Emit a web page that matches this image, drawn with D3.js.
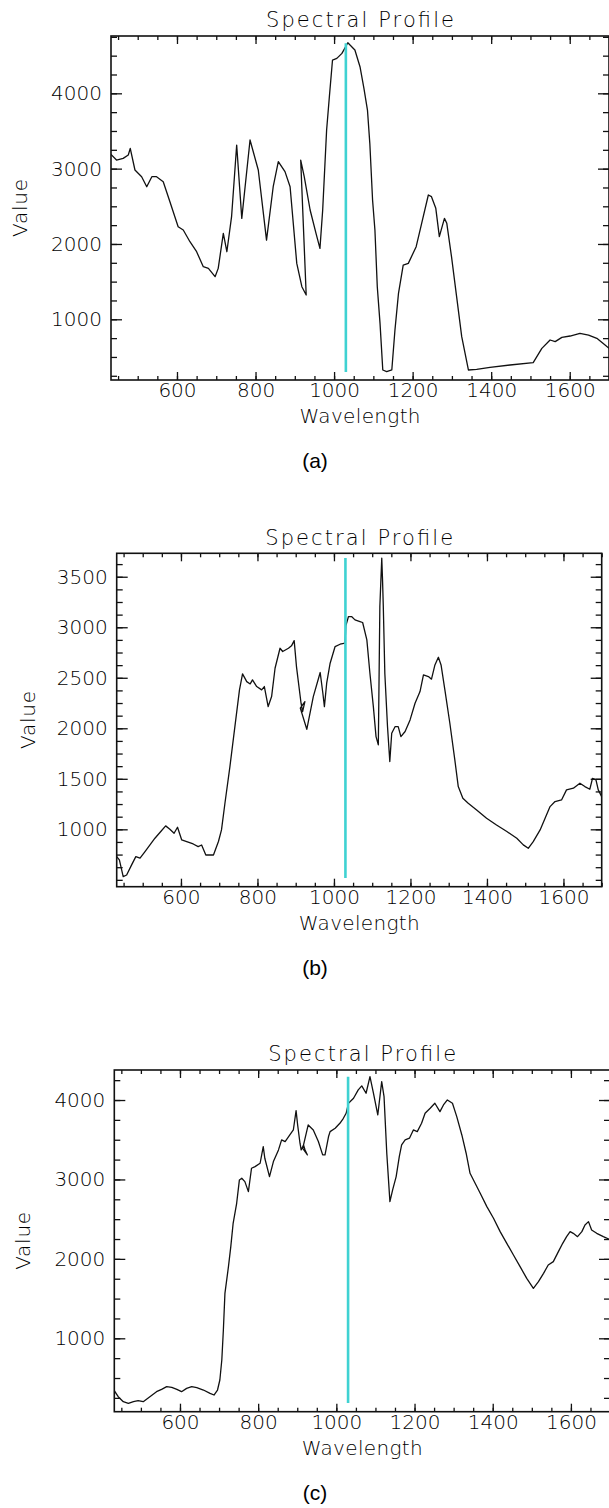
<!DOCTYPE html>
<html>
<head>
<meta charset="utf-8">
<script src="https://cdn.jsdelivr.net/npm/d3@7/dist/d3.min.js"></script>
<style>
body{margin:0;background:#fff;}
.lbl{font-family:"DejaVu Sans",sans-serif;font-weight:200;fill:#000;}
.cap{font-family:"Liberation Sans",Arial,sans-serif;font-weight:normal;fill:#000;}
</style>
</head>
<body>
<svg id="chart"></svg>
<script>
// spectra (wavelength nm / value); the 915-930 bit goes back in x (detector overlap)
var waveA = [432,446,463,476,481,493,510,523,536,548,565,582,603,616,633,650,667,680,697,705,718,727,739,752,765,786,807,828,845,858,875,888,905,918,929,915,924,939,954,964,971,981,988,996,1007,1020,1035,1053,1066,1076,1085,1091,1098,1104,1110,1117,1124,1134,1147,1155,1164,1176,1189,1209,1223,1240,1248,1259,1268,1281,1287,1299,1312,1325,1342,1363,1397,1448,1507,1529,1550,1563,1580,1601,1626,1648,1669,1690,1700];
var valueA = [3190,3114,3136,3181,3269,2982,2893,2760,2893,2893,2827,2561,2229,2185,2030,1897,1698,1676,1566,1676,2141,1897,2362,3313,2340,3380,2982,2052,2760,3092,2960,2760,1742,1433,1322,3114,2893,2451,2141,1942,2451,3513,3955,4442,4464,4530,4672,4575,4353,4066,3778,3336,2583,2185,1433,946,327,304,327,858,1344,1720,1742,1964,2274,2650,2628,2473,2097,2340,2274,1831,1300,769,327,335,362,393,424,614,725,703,760,778,813,791,747,658,614];

var waveB = [432,439,449,458,471,482,493,506,519,532,545,560,571,582,591,602,615,632,645,654,665,685,698,706,715,728,741,753,761,772,781,787,798,811,818,828,837,846,859,866,881,889,896,902,914,918,924,912,929,946,964,971,975,981,990,1003,1016,1029,1031,1038,1046,1055,1068,1075,1086,1094,1103,1110,1116,1120,1125,1127,1129,1133,1140,1146,1151,1160,1168,1175,1186,1199,1212,1225,1234,1247,1255,1264,1273,1280,1290,1303,1316,1325,1337,1351,1373,1399,1425,1452,1478,1495,1508,1521,1539,1552,1565,1578,1595,1608,1626,1643,1656,1669,1676,1685,1691,1700];
var valueB = [730,697,532,548,648,730,714,780,846,912,968,1034,1001,961,1020,895,879,855,829,845,746,746,879,994,1258,1621,2017,2380,2538,2462,2439,2479,2413,2380,2413,2215,2314,2594,2792,2760,2792,2816,2868,2611,2248,2165,2264,2200,1990,2314,2552,2347,2215,2446,2644,2809,2832,2842,3014,3106,3106,3073,3056,3047,2875,2545,2215,1918,1836,3205,3684,3469,3205,2545,2017,1671,1951,2017,2017,1918,1968,2083,2248,2363,2528,2512,2486,2627,2703,2627,2380,2050,1687,1423,1307,1258,1192,1110,1043,978,911,846,812,878,994,1110,1225,1275,1291,1390,1407,1456,1423,1397,1505,1489,1390,1324];

var waveC = [432,442,455,468,481,493,506,523,540,553,566,579,592,604,617,630,643,660,677,687,696,702,707,711,715,724,730,736,745,752,758,766,775,783,792,805,813,817,829,839,852,860,869,881,890,897,901,907,910,916,920,926,914,928,941,954,965,971,980,984,997,1009,1018,1025,1031,1044,1056,1065,1076,1086,1095,1106,1116,1122,1129,1137,1144,1153,1161,1167,1176,1187,1197,1207,1218,1227,1240,1252,1265,1274,1284,1297,1308,1321,1332,1342,1355,1368,1385,1402,1419,1436,1453,1470,1487,1504,1517,1530,1542,1555,1568,1579,1589,1598,1606,1617,1628,1636,1645,1653,1666,1683,1698];
var valueC = [340,265,202,181,202,215,202,265,328,357,391,383,357,328,370,391,378,349,307,286,349,475,727,1105,1566,1902,2154,2448,2700,2994,3015,2973,2847,3141,3162,3204,3414,3267,3036,3225,3372,3498,3477,3560,3623,3867,3686,3456,3372,3435,3372,3309,3392,3686,3623,3477,3309,3309,3540,3602,3644,3707,3770,3833,3959,4022,4127,4178,4085,4295,4085,3812,4232,4043,3330,2721,2868,3036,3288,3435,3498,3519,3623,3602,3707,3833,3896,3959,3854,3938,4001,3959,3791,3560,3330,3078,2952,2826,2658,2511,2343,2196,2049,1902,1755,1629,1713,1818,1923,1965,2091,2196,2280,2343,2322,2280,2343,2427,2469,2364,2322,2280,2247];

var xTicks = [600,800,1000,1200,1400,1600];
var yTicksA = [1000,2000,3000,4000];
var yTicksB = [1000,1500,2000,2500,3000,3500];
var yTicksC = [1000,2000,3000,4000];
var markerWave = 1030;
var captions = ['(a)','(b)','(c)'];

var svg = d3.select('#chart').attr('width',609).attr('height',1508);

var panels = [
  {wave:waveA, value:valueA, yTicks:yTicksA, minor:250, ydom:[194,4761], cyan:[300,4664],
   left:111, right:609, top:36, bottom:380, valueX:20, cap:captions[0]},
  {wave:waveB, value:valueB, yTicks:yTicksB, minor:125, ydom:[432,3732], cyan:[518,3685],
   left:116.7, right:601.7, top:553.3, bottom:886.7, valueX:28, cap:captions[1]},
  {wave:waveC, value:valueC, yTicks:yTicksC, minor:250, ydom:[76,4378], cyan:[186,4294],
   left:114.3, right:610, top:1070, bottom:1411.7, valueX:23, cap:captions[2]}
];

var minorX = d3.range(450,1701,50);
var fmt = d3.format('d');

var styleAxis = function(g){
  g.select('.domain').remove();
  g.selectAll('line').attr('stroke','#111').attr('stroke-width',1.3);
  g.selectAll('text').attr('class','lbl').attr('font-size',20).attr('fill','#000');
};

panels.forEach(function(p,k){
  var x = d3.scaleLinear().domain([432,1700]).range([p.left,p.right]);
  var y = d3.scaleLinear().domain(p.ydom).range([p.bottom,p.top]);
  var g = svg.append('g');
  var minorY = d3.range(Math.ceil(p.ydom[0]/p.minor)*p.minor, p.ydom[1], p.minor);

  g.append('clipPath').attr('id','clip'+k).append('rect')
   .attr('x',p.left).attr('y',p.top).attr('width',p.right-p.left).attr('height',p.bottom-p.top);

  // ticks, all pointing inwards
  g.append('g').attr('transform','translate(0,'+p.bottom+')')
   .call(d3.axisBottom(x).tickValues(minorX).tickSize(-4).tickFormat('')).call(styleAxis);
  g.append('g').attr('transform','translate(0,'+p.bottom+')')
   .call(d3.axisBottom(x).tickValues(xTicks).tickSize(-8).tickPadding(3).tickFormat(fmt)).call(styleAxis);
  g.append('g').attr('transform','translate(0,'+p.top+')')
   .call(d3.axisTop(x).tickValues(minorX).tickSize(-4).tickFormat('')).call(styleAxis);
  g.append('g').attr('transform','translate(0,'+p.top+')')
   .call(d3.axisTop(x).tickValues(xTicks).tickSize(-8).tickFormat('')).call(styleAxis);
  g.append('g').attr('transform','translate('+p.left+',0)')
   .call(d3.axisLeft(y).tickValues(minorY).tickSize(-6).tickFormat('')).call(styleAxis);
  g.append('g').attr('transform','translate('+p.left+',0)')
   .call(d3.axisLeft(y).tickValues(p.yTicks).tickSize(-11).tickPadding(9).tickFormat(fmt)).call(styleAxis);
  g.append('g').attr('transform','translate('+p.right+',0)')
   .call(d3.axisRight(y).tickValues(minorY).tickSize(-6).tickFormat('')).call(styleAxis);
  g.append('g').attr('transform','translate('+p.right+',0)')
   .call(d3.axisRight(y).tickValues(p.yTicks).tickSize(-11).tickFormat('')).call(styleAxis);

  g.append('rect').attr('x',p.left).attr('y',p.top)
   .attr('width',p.right-p.left).attr('height',p.bottom-p.top)
   .attr('fill','none').attr('stroke','#111').attr('stroke-width',1.6);

  var pts = p.wave.map(function(w,i){ return [w,p.value[i]]; });
  var line = d3.line().x(function(d){return x(d[0]);}).y(function(d){return y(d[1]);});

  g.append('path').attr('d',line(pts)).attr('clip-path','url(#clip'+k+')')
   .attr('fill','none').attr('stroke','#111').attr('stroke-width',1.3)
   .attr('stroke-linejoin','round');

  g.append('line')
   .attr('x1',x(markerWave)).attr('x2',x(markerWave))
   .attr('y1',y(p.cyan[0])).attr('y2',y(p.cyan[1]))
   .attr('stroke','#3fd2d2').attr('stroke-width',2.6);

  var cx = (p.left+p.right)/2;
  g.append('text').attr('class','lbl').attr('x',cx).attr('y',p.top-16).attr('dy','0.35em')
   .attr('text-anchor','middle').attr('font-size',21)
   .attr('textLength',188).attr('lengthAdjust','spacing').text('Spectral Profile');
  g.append('text').attr('class','lbl').attr('x',cx).attr('y',p.bottom+36).attr('dy','0.35em')
   .attr('text-anchor','middle').attr('font-size',20)
   .attr('textLength',121).attr('lengthAdjust','spacing').text('Wavelength');
  g.append('text').attr('class','lbl')
   .attr('transform','translate('+p.valueX+','+((p.top+p.bottom)/2)+') rotate(-90)')
   .attr('dy','0.35em').attr('text-anchor','middle').attr('font-size',20)
   .attr('textLength',58).attr('lengthAdjust','spacing').text('Value');
  g.append('text').attr('class','cap').attr('x',315).attr('y',p.bottom+81).attr('dy','0.35em')
   .attr('text-anchor','middle').attr('font-size',21).text(p.cap);
});
</script>
</body>
</html>
